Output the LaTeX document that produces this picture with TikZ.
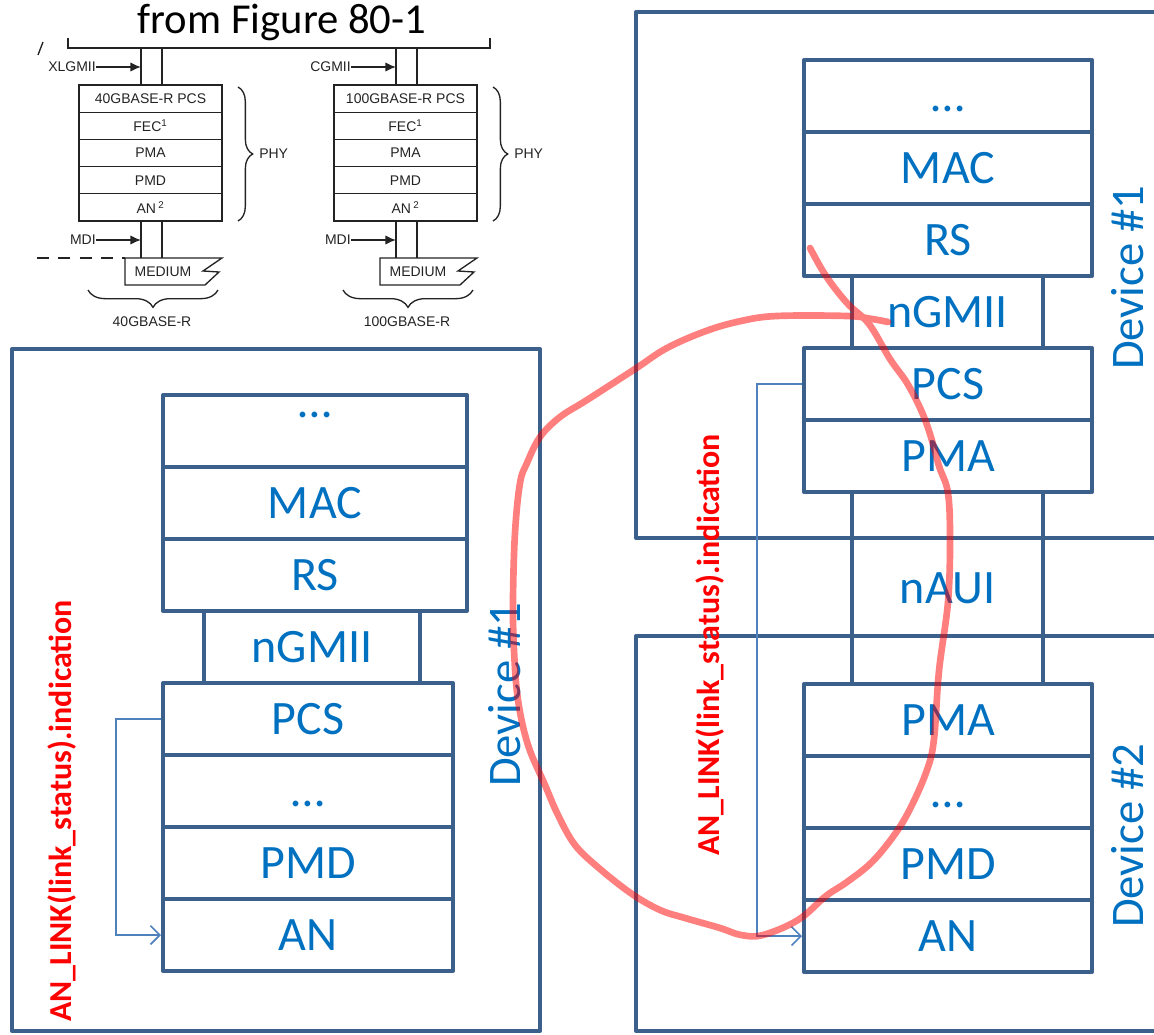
\documentclass[tikz,border=0pt]{standalone}
\usepackage{fontspec}
\setmainfont{Carlito}
\newfontfamily\figfont{Liberation Sans}
\usetikzlibrary{arrows.meta,decorations.pathreplacing}
\definecolor{stackBlue}{RGB}{ 60, 96,140}
\definecolor{textBlue} {RGB}{  0,112,192}
\definecolor{linkBlue} {RGB}{ 79,129,189}
\definecolor{figGrey}  {RGB}{ 35, 35, 35}

\begin{document}
\begin{tikzpicture}[x=0.75pt,y=-0.75pt,
  every node/.style={inner sep=0pt},
  layer/.style  ={draw=stackBlue,line width=3pt,line join=round,minimum height=54pt,
                  text=textBlue,font=\fontsize{36}{40}\selectfont,
                  text height=23pt,text depth=0pt},
  upper/.style  ={layer,minimum width=228pt},
  lower/.style  ={layer,minimum width=217.5pt},
  rstack/.style ={layer,minimum width=216pt},
  lmii/.style   ={layer,minimum width=162pt},
  rmii/.style   ={layer,minimum width=143.25pt},
  device/.style ={draw=stackBlue,line width=3pt,line join=round},
  devlbl/.style ={text=textBlue,font=\fontsize{35}{40}\selectfont,rotate=90},
  anlbl/.style  ={text=red,font=\fontsize{24}{28}\selectfont\bfseries,rotate=90},
  fb/.style     ={draw=linkBlue,line width=1.2pt,-{Straight Barb[length=7pt,width=14pt]}},
  loop/.style   ={draw=red,opacity=0.5,line width=5pt,line cap=round,line join=round},
  figline/.style={draw=figGrey,line width=1pt},
  figrow/.style ={figline,minimum width=107.25pt,minimum height=20.4pt,
                  font=\figfont\fontsize{10.5}{12}\selectfont,text=figGrey},
  figtext/.style={font=\figfont\fontsize{10.5}{12}\selectfont,text=figGrey},
  figarrow/.style={figline,-{Latex[length=8pt,width=7pt]}},
  figtitle/.style={font=\fontsize{32}{36}\selectfont}
]
\useasboundingbox (0,0) rectangle (1154,1035);

% Figure 80-1 excerpt
\node[figtitle] (title) at (282,22) {from Figure 80-1};
\draw[figline] (68,38) -- (68,48) -- (490,48) -- (490,38);
\draw[figline] (38,55) -- (43,42);
\draw[figline,dashed,dash pattern=on 9pt off 7pt] (37,258) -- (125,258);
\foreach \dx/\rate/\mii in {0/40/XLGMII,255/100/CGMII}{
  \node[figrow] (pcs\rate) at (150.5+\dx,98.6)  {\rate GBASE-R PCS};
  \node[figrow] (fec\rate) at (150.5+\dx,125.8) {FEC\textsuperscript{1}};
  \node[figrow] (pma\rate) at (150.5+\dx,153)   {PMA};
  \node[figrow] (pmd\rate) at (150.5+\dx,180.2) {PMD};
  \node[figrow] (an\rate)  at (150.5+\dx,207.4) {AN\,\textsuperscript{2}};
  \draw[figline] (141+\dx,48) -- (141+\dx,85) (162+\dx,48) -- (162+\dx,85);
  \draw[figline] (141+\dx,221) -- (141+\dx,258) (162+\dx,221) -- (162+\dx,258);
  \coordinate (mt\rate) at (141+\dx,67);
  \coordinate (mb\rate) at (141+\dx,240);
  \node[figtext,anchor=east] (mii\rate) at (96+\dx,67)  {\mii};
  \node[figtext,anchor=east] (mdi\rate) at (96+\dx,240) {MDI};
  \draw[figarrow] (mii\rate) -- (mt\rate);
  \draw[figarrow] (mdi\rate) -- (mb\rate);
  \draw[figline] (125+\dx,258) -- (222+\dx,258) -- (203+\dx,271) -- (219+\dx,272)
                 -- (205+\dx,285) -- (125+\dx,285) -- cycle;
  \node[figtext] (med\rate) at (163+\dx,272) {MEDIUM};
  \draw[figline,decorate,decoration={brace,amplitude=11pt}] (238+\dx,87) -- (238+\dx,221);
  \node[figtext,anchor=west] (phy\rate) at (259+\dx,154) {PHY};
  \draw[figline,decorate,decoration={brace,amplitude=13pt}] (218+\dx,290) -- (88+\dx,290);
  \node[figtext] (base\rate) at (152+\dx,322) {\rate GBASE-R};
}

% devices
\draw[device] (12,349) rectangle (540,1031);
\draw[device] (636,12) rectangle (1180,538);
\draw[device] (636,636) rectangle (1180,1031);

% left device stack
\node[upper] (lTop) at (315,431) {\raisebox{22pt}{…}};
\node[upper] (lMAC) at (315,503) {MAC};
\node[upper] (lRS)  at (315,575) {RS};
\node[lmii]  (lMII) at (312,647) {nGMII};
\node[lower] (lPCS) at (308,719) {PCS};
\node[lower] (lMid) at (308,791) {…};
\node[lower] (lPMD) at (308,863) {PMD};
\node[lower] (lAN)  at (308,935) {AN};

% right devices stack
\node[rstack] (rTop)  at (948,96)  {…};
\node[rstack] (rMAC)  at (948,168) {MAC};
\node[rstack] (rRS)   at (948,240) {RS};
\node[rmii]   (rMII)  at (947.5,312) {nGMII};
\node[rstack] (rPCS)  at (948,384) {PCS};
\node[rstack] (rPMA)  at (948,456) {PMA};
\node[rmii,minimum height=144pt] (rAUI) at (947.5,588) {nAUI};
\node[rstack] (sPMA)  at (948,720) {PMA};
\node[rstack] (sMid)  at (948,792) {…};
\node[rstack] (sPMD)  at (948,864) {PMD};
\node[rstack] (sAN)   at (948,936) {AN};

\node[devlbl] (lDev)  at (505,695)  {Device \#1};
\node[devlbl] (rDev1) at (1128,278) {Device \#1};
\node[devlbl] (rDev2) at (1128,836) {Device \#2};

\node[anlbl] (lLink) at (62,811)  {AN\_LINK(link\_status).indication};
\node[anlbl] (rLink) at (710,645) {AN\_LINK(link\_status).indication};

\draw[fb] (lPCS.west) -- ++(-45,0) |- (lAN.west);
\draw[fb] (rPCS.west) -- ++(-45,0) |- (sAN.west);

% hand-drawn loop
\draw[loop] plot[smooth,tension=0.6] coordinates {
  (810,248) (826,276) (847,303) (869,324) (890,359) (907,383) (921,410)
  (930,434) (939,466) (948,493) (950,541) (948,602) (939,671) (934,739)
  (927,770) (911,807) (895,834) (872,862) (847,882) (826,896) (798,920)
  (763,935) (741,935) (720,928) (685,918) (660,910) (632,894) (600,869)
  (575,845) (558,815) (545,785) (528,745) (518,700) (514,650) (513,600)
  (515,533) (520,483) (527,463) (540,437) (560,417) (587,400) (635,369)
  (667,348) (706,331) (741,321) (777,316) (847,316) (872,319) (888,322)};
\end{tikzpicture}
\end{document}
